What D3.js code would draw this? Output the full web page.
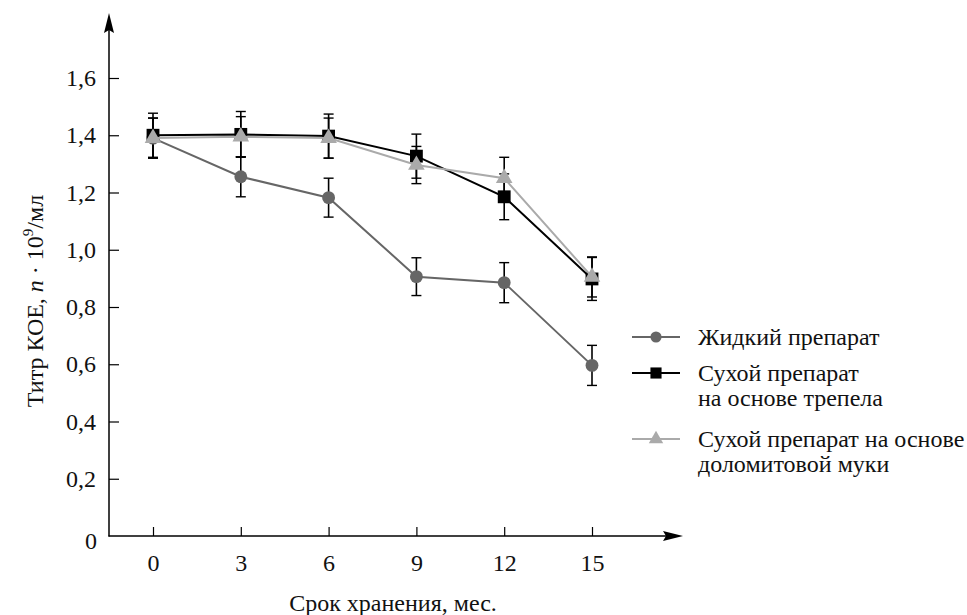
<!DOCTYPE html>
<html><head><meta charset="utf-8">
<script src="https://cdn.jsdelivr.net/npm/d3@7/dist/d3.min.js"></script>
<style>body{margin:0;background:#fff}svg{display:block}</style>
</head><body>
<svg id="c" width="967" height="615"></svg>
<script>
const months = [0, 3, 6, 9, 12, 15];
const liquid = [1.39, 1.255, 1.182, 0.906, 0.885, 0.596];
const liquidErr = [0.07, 0.07, 0.068, 0.066, 0.07, 0.07];
const tripoli = [1.40, 1.403, 1.397, 1.327, 1.185, 0.898];
const tripoliErr = [0.077, 0.08, 0.077, 0.077, 0.08, 0.075];
const dolomite = [1.39, 1.395, 1.39, 1.296, 1.25, 0.905];
const dolomiteErr = [0.07, 0.07, 0.07, 0.065, 0.073, 0.07];
const yTicks = [0, 0.2, 0.4, 0.6, 0.8, 1.0, 1.2, 1.4, 1.6];
const seriesNames = ["Жидкий препарат", "Сухой препарат|на основе трепела", "Сухой препарат на основе|доломитовой муки"];

const FONT = '"Liberation Serif"';
const FS = "24px";
const svg = d3.select("#c");
const x = d3.scaleLinear().domain([0, 15]).range([153, 592]);
const y = d3.scaleLinear().domain([0, 1.6]).range([536, 78]);
const fmt = d => d === 0 ? "0" : d3.format(".1f")(d).replace(".", ",");
const styleText = sel => sel.attr("font-family", null).style("font-family", FONT).style("font-size", FS).attr("fill", "#111");

// Y axis
const ya = svg.append("g").attr("transform", "translate(109,0)")
  .call(d3.axisLeft(y).tickValues(yTicks.slice(1)).tickFormat(fmt).tickSizeInner(-10).tickSizeOuter(0).tickPadding(13));
ya.attr("font-family", null);
ya.select(".domain").remove();
ya.selectAll("line").attr("stroke", "#000").attr("stroke-width", 1.2);
styleText(ya.selectAll("text"));
styleText(svg.append("text").attr("x", 97).attr("y", 549).attr("text-anchor", "end")).text(fmt(yTicks[0]));

// X axis
const xa = svg.append("g").attr("transform", "translate(0,536)")
  .call(d3.axisBottom(x).tickValues(months).tickFormat(d => d).tickSizeInner(-9).tickSizeOuter(0).tickPadding(18));
xa.attr("font-family", null);
xa.select(".domain").remove();
xa.selectAll("line").attr("stroke", "#000").attr("stroke-width", 1.2);
styleText(xa.selectAll("text"));

// axis lines with arrows
svg.append("line").attr("x1", 109).attr("x2", 109).attr("y1", 536.5).attr("y2", 25).attr("stroke", "#000").attr("stroke-width", 1.5);
svg.append("line").attr("x1", 108.5).attr("x2", 672).attr("y1", 536).attr("y2", 536).attr("stroke", "#000").attr("stroke-width", 1.5);
svg.append("path").attr("d", "M109,13 L114,33 L109,30 L104,33 Z").attr("fill", "#000");
svg.append("path").attr("d", "M683,536 L663,531 L666,536 L663,541 Z").attr("fill", "#000");

// axis titles
styleText(svg.append("text").attr("x", 393).attr("y", 611).attr("text-anchor", "middle")).text("Срок хранения, мес.");
const yt = styleText(svg.append("text").attr("transform", "translate(43,301) rotate(-90)").attr("text-anchor", "middle"));
yt.append("tspan").text("Титр КОЕ, ");
yt.append("tspan").style("font-style", "italic").text("n");
yt.append("tspan").text(" · 10");
yt.append("tspan").attr("dy", -10).style("font-size", "15px").text("9");
yt.append("tspan").attr("dy", 10).text("/мл");

const series = [
  {vals: liquid, err: liquidErr, color: "#666666", sym: d3.symbolCircle, size: 130},
  {vals: tripoli, err: tripoliErr, color: "#000000", sym: d3.symbolSquare, size: 165},
  {vals: dolomite, err: dolomiteErr, color: "#aaaaaa", sym: d3.symbolTriangle, size: 120}
];

const line = d3.line().x((d, i) => x(months[i])).y(d => y(d));

series.forEach(s => {
  const g = svg.append("g");
  s.vals.forEach((v, i) => {
    const cx = x(months[i]), top = y(v + s.err[i]), bot = y(v - s.err[i]);
    g.append("line").attr("x1", cx).attr("x2", cx).attr("y1", top).attr("y2", bot).attr("stroke", "#000").attr("stroke-width", 1.6);
    [top, bot].forEach(yy => g.append("line").attr("x1", cx - 5).attr("x2", cx + 5).attr("y1", yy).attr("y2", yy).attr("stroke", "#000").attr("stroke-width", 1.4));
  });
});
series.forEach(s => {
  const g = svg.append("g");
  g.append("path").datum(s.vals).attr("d", line).attr("fill", "none").attr("stroke", s.color).attr("stroke-width", 2);
  g.selectAll("path.m").data(s.vals).enter().append("path").attr("class", "m")
    .attr("transform", (d, i) => `translate(${x(months[i])},${y(d)})`)
    .attr("d", d3.symbol().type(s.sym).size(s.size)).attr("fill", s.color);
});

// legend
const legY = [337, 373, 439];
series.forEach((s, i) => {
  const g = svg.append("g").attr("transform", `translate(0,${legY[i]})`);
  g.append("line").attr("x1", 632).attr("x2", 680).attr("y1", 0).attr("y2", 0).attr("stroke", s.color).attr("stroke-width", 2);
  g.append("path").attr("transform", "translate(656,0)").attr("d", d3.symbol().type(s.sym).size(s.size * 0.75)).attr("fill", s.color);
  seriesNames[i].split("|").forEach((t, j) => styleText(g.append("text").attr("x", 698).attr("y", 8 + j * 25)).text(t));
});
</script>
</body></html>
